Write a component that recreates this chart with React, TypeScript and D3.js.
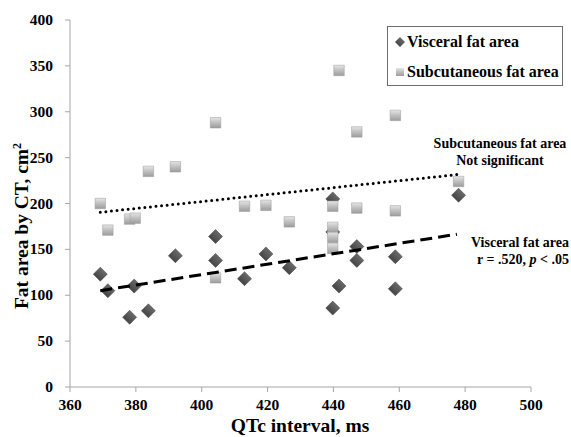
import React, { useEffect, useRef } from "react";
import * as d3 from "d3";

// QTc interval (ms) vs fat area (cm2)
const visceralQtc = [369.2, 371.5, 379.5, 378.1, 383.8, 392.0, 404.2, 404.2, 413.0, 419.5, 426.6, 439.8, 439.8, 439.8, 441.7, 447.1, 447.1, 458.8, 458.8, 478.0];
const visceralArea = [123, 105, 110, 76, 83, 143, 164, 138, 118, 145, 130, 205, 169, 86, 110, 153, 138, 142, 107, 209];

const subcutQtc = [369.2, 371.5, 378.1, 379.8, 383.8, 392.0, 404.2, 404.2, 413.0, 419.5, 426.6, 439.8, 439.8, 439.8, 439.8, 441.7, 447.1, 447.1, 458.8, 458.8, 478.0];
const subcutArea = [200, 171, 183, 184, 235, 240, 288, 119, 197, 198, 180, 197, 174, 163, 151, 345, 278, 195, 296, 192, 224];

// trend line end points
const visceralTrend = [[369.2, 105], [477.5, 166.5]];
const subcutTrend = [[369.2, 190.5], [477.5, 231.5]];

const xTicks = [360, 380, 400, 420, 440, 460, 480, 500];
const yTicks = [0, 50, 100, 150, 200, 250, 300, 350, 400];

const width = 571;
const height = 437;
const font = "'Liberation Serif', 'Times New Roman', serif";

function App() {
  const ref = useRef<SVGSVGElement | null>(null);

  useEffect(() => {
    drawChart();
  });

  function drawChart() {
    const svg = d3.select(ref.current);
    svg.selectAll("*").remove();

    const x = d3.scaleLinear().domain([360, 500]).range([70, 531]);
    const y = d3.scaleLinear().domain([0, 400]).range([387, 20]);

    const defs = svg.append("defs");
    const sq = defs.append("linearGradient").attr("id", "sqGrad").attr("x1", 0).attr("y1", 0).attr("x2", 0).attr("y2", 1);
    sq.append("stop").attr("offset", "0%").attr("stop-color", "#e6e6e6");
    sq.append("stop").attr("offset", "45%").attr("stop-color", "#c2c2c2");
    sq.append("stop").attr("offset", "100%").attr("stop-color", "#9c9c9c");
    const dm = defs.append("linearGradient").attr("id", "dmGrad").attr("x1", 0).attr("y1", 0).attr("x2", 0).attr("y2", 1);
    dm.append("stop").attr("offset", "0%").attr("stop-color", "#6a6a6a");
    dm.append("stop").attr("offset", "100%").attr("stop-color", "#454545");

    // axes
    const axisColor = "#a6a6a6";
    svg.append("line").attr("x1", x(360)).attr("x2", x(500)).attr("y1", y(0)).attr("y2", y(0)).attr("stroke", axisColor);
    svg.append("line").attr("x1", x(360)).attr("x2", x(360)).attr("y1", y(0)).attr("y2", y(400)).attr("stroke", axisColor);

    svg.selectAll(".xt").data(xTicks).enter().append("line")
      .attr("x1", (d) => x(d)).attr("x2", (d) => x(d))
      .attr("y1", y(0)).attr("y2", y(0) + 5).attr("stroke", axisColor);
    svg.selectAll(".yt").data(yTicks).enter().append("line")
      .attr("x1", x(360) - 5).attr("x2", x(360))
      .attr("y1", (d) => y(d)).attr("y2", (d) => y(d)).attr("stroke", axisColor);

    svg.selectAll(".xl").data(xTicks).enter().append("text")
      .attr("x", (d) => x(d)).attr("y", 410)
      .attr("text-anchor", "middle")
      .style("font", `bold 15.5px ${font}`)
      .text((d) => d);
    svg.selectAll(".yl").data(yTicks).enter().append("text")
      .attr("x", 53).attr("y", (d) => y(d) + 5)
      .attr("text-anchor", "end")
      .style("font", `bold 15.5px ${font}`)
      .text((d) => d);

    // axis titles
    svg.append("text").attr("x", 300).attr("y", 432).attr("text-anchor", "middle")
      .style("font", `bold 19.5px ${font}`).text("QTc interval, ms");
    const yt = svg.append("text").attr("transform", "translate(28,226) rotate(-90)")
      .attr("text-anchor", "middle").style("font", `bold 19.5px ${font}`);
    yt.append("tspan").text("Fat area by CT, cm");
    yt.append("tspan").attr("baseline-shift", "super").style("font-size", "12px").text("2");

    const diamond = d3.symbol(d3.symbolSquare, 98)();
    const square = d3.symbol(d3.symbolSquare, 110)();

    // visceral (diamonds)
    svg.selectAll(".vis").data(visceralQtc).enter().append("path")
      .attr("d", diamond)
      .attr("transform", (d, i) => `translate(${x(d)},${y(visceralArea[i])}) rotate(45)`)
      .attr("fill", "url(#dmGrad)")
      .attr("stroke", "#3e3e3e").attr("stroke-width", 0.5);

    // subcutaneous (squares)
    svg.selectAll(".sub").data(subcutQtc).enter().append("path")
      .attr("d", square)
      .attr("transform", (d, i) => `translate(${x(d)},${y(subcutArea[i])})`)
      .attr("fill", "url(#sqGrad)")
      .attr("stroke", "#9a9a9a").attr("stroke-width", 0.5);

    const line = d3.line<number[]>().x((d) => x(d[0])).y((d) => y(d[1]));

    svg.append("path").attr("d", line(subcutTrend))
      .attr("fill", "none").attr("stroke", "#000").attr("stroke-width", 3)
      .attr("stroke-linecap", "round").attr("stroke-dasharray", "0 5.6");
    svg.append("path").attr("d", line(visceralTrend))
      .attr("fill", "none").attr("stroke", "#000").attr("stroke-width", 3)
      .attr("stroke-dasharray", "12 6");

    // annotations
    const ann = (tx: number, ty: number, s: string) =>
      svg.append("text").attr("x", tx).attr("y", ty).attr("text-anchor", "middle")
        .style("font", `bold 14px ${font}`).text(s);
    ann(500, 148, "Subcutaneous fat area");
    ann(500, 165, "Not significant");
    ann(520, 247, "Visceral fat area");
    const r = svg.append("text").attr("x", 523).attr("y", 264).attr("text-anchor", "middle")
      .style("font", `bold 14px ${font}`);
    r.append("tspan").text("r = .520, ");
    r.append("tspan").style("font-style", "italic").text("p");
    r.append("tspan").text(" < .05");

    // legend
    svg.append("rect").attr("x", 387.5).attr("y", 26.5).attr("width", 175).attr("height", 59)
      .attr("fill", "#fff").attr("stroke", "#6e6e6e");
    svg.append("path").attr("d", d3.symbol(d3.symbolSquare, 50)())
      .attr("transform", "translate(400,42) rotate(45)").attr("fill", "url(#dmGrad)");
    svg.append("path").attr("d", d3.symbol(d3.symbolSquare, 64)())
      .attr("transform", "translate(400,72)").attr("fill", "url(#sqGrad)");
    svg.append("text").attr("x", 407).attr("y", 47).style("font", `bold 16px ${font}`).text("Visceral fat area");
    svg.append("text").attr("x", 407).attr("y", 77).style("font", `bold 16px ${font}`).text("Subcutaneous fat area");
  }

  return (
    <svg
      ref={ref}
      width={width}
      height={height}
      style={{ position: "absolute", left: 0, top: 0, background: "#fff" }}
    />
  );
}

export default App;
